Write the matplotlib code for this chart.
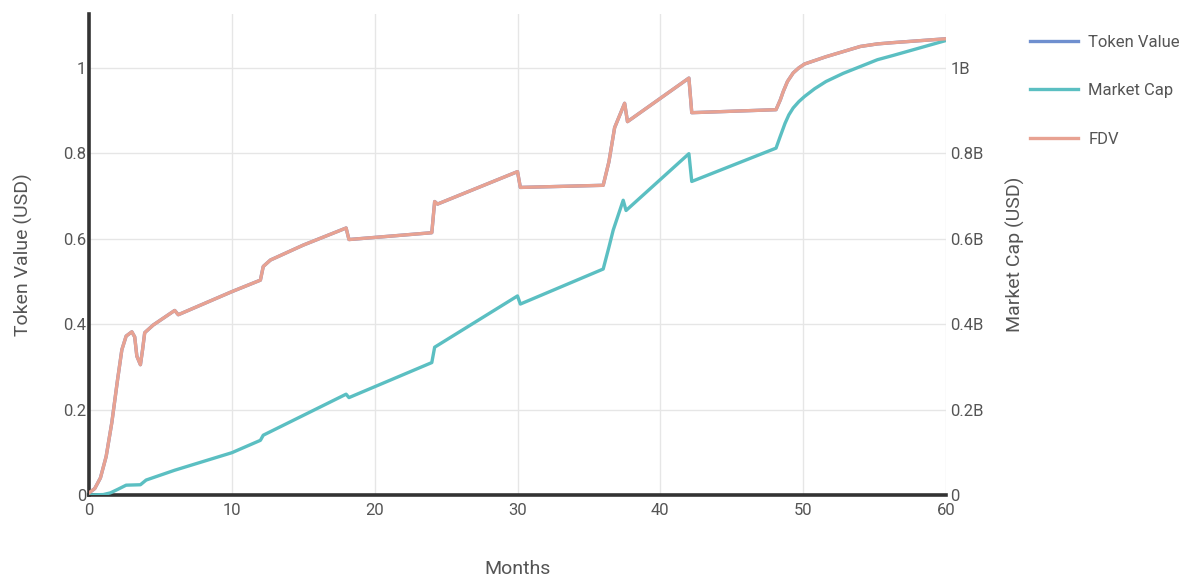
import matplotlib
matplotlib.use("Agg")
import matplotlib.pyplot as plt

plt.rcParams['font.family'] = ['Roboto', 'DejaVu Sans']

# ---- data ----
months_fdv = [0, 0.4, 0.8, 1.2, 1.6, 2.0, 2.3, 2.6, 3.0, 3.2, 3.35, 3.6, 3.75, 3.9,
              4.5, 6.0, 6.25, 10.0, 12.0, 12.2, 12.7, 15.0, 18.0, 18.2, 24.0, 24.2,
              24.4, 30.0, 30.2, 36.0, 36.4, 36.8, 37.5, 37.7, 42.0, 42.2, 48.1, 48.4,
              48.6, 48.9, 49.3, 49.7, 50.1, 51.6, 54.0, 55.2, 56.3, 60.0]
token_value = [0.005, 0.015, 0.04, 0.09, 0.17, 0.27, 0.34, 0.372, 0.382, 0.37, 0.325,
               0.305, 0.34, 0.38, 0.398, 0.432, 0.422, 0.476, 0.503, 0.535, 0.55, 0.585,
               0.625, 0.598, 0.614, 0.687, 0.681, 0.757, 0.72, 0.725, 0.78, 0.86, 0.917,
               0.874, 0.976, 0.895, 0.902, 0.925, 0.944, 0.968, 0.988, 1.0, 1.009, 1.026,
               1.05, 1.056, 1.059, 1.068]
fdv_billion = [0.005, 0.015, 0.04, 0.09, 0.17, 0.27, 0.34, 0.372, 0.382, 0.37, 0.325,
               0.305, 0.34, 0.38, 0.398, 0.432, 0.422, 0.476, 0.503, 0.535, 0.55, 0.585,
               0.625, 0.598, 0.614, 0.687, 0.681, 0.757, 0.72, 0.725, 0.78, 0.86, 0.917,
               0.874, 0.976, 0.895, 0.902, 0.925, 0.944, 0.968, 0.988, 1.0, 1.009, 1.026,
               1.05, 1.056, 1.059, 1.068]

months_mc = [0, 1.0, 1.5, 2.0, 2.6, 3.6, 4.0, 6.0, 10.0, 12.0, 12.2, 18.0, 18.2, 24.0,
             24.2, 30.0, 30.2, 36.0, 36.4, 36.7, 37.4, 37.6, 42.0, 42.2, 48.1, 48.4,
             48.73, 49.0, 49.3, 49.7, 50.1, 50.8, 51.6, 52.8, 54.0, 55.2, 56.3, 60.0]
market_cap_billion = [0, 0.001, 0.005, 0.013, 0.023, 0.024, 0.035, 0.058, 0.099, 0.128,
                      0.14, 0.236, 0.228, 0.31, 0.346, 0.466, 0.447, 0.529, 0.58, 0.62,
                      0.69, 0.666, 0.799, 0.734, 0.812, 0.84, 0.87, 0.89, 0.906, 0.921,
                      0.933, 0.951, 0.968, 0.987, 1.003, 1.019, 1.029, 1.064]

x_ticks = [0, 10, 20, 30, 40, 50, 60]
left_ticks = [0, 0.2, 0.4, 0.6, 0.8, 1.0]
left_tick_labels = ['0', '0.2', '0.4', '0.6', '0.8', '1']
right_ticks_billion = [0, 0.2, 0.4, 0.6, 0.8, 1.0]
right_tick_labels = ['0', '0.2B', '0.4B', '0.6B', '0.8B', '1B']

c_token = '#6f8fcf'
c_mc = '#5bbfc2'
c_fdv = '#e8a292'
txt = '#555555'
spine_c = '#333333'

fig = plt.figure(figsize=(11.99, 5.80), dpi=100)
ax = fig.add_axes([89/1199, 1-495/580, (946-89)/1199, (495-14)/580])
ax2 = ax.twinx()

ymax = 1.126
l_tv, = ax.plot(months_fdv, token_value, color=c_token, lw=2.4, solid_joinstyle='round')
l_mc, = ax2.plot(months_mc, [v*1e9 for v in market_cap_billion], color=c_mc, lw=2.4,
                 solid_joinstyle='round')
l_fdv, = ax2.plot(months_fdv, [v*1e9 for v in fdv_billion], color=c_fdv, lw=2.4,
                  solid_joinstyle='round')

ax.set_xlim(0, 60)
ax.set_ylim(0, ymax)
ax2.set_ylim(0, ymax*1e9)

ax.set_xticks(x_ticks)
ax.set_yticks(left_ticks)
ax.set_yticklabels(left_tick_labels)
ax2.set_yticks([v*1e9 for v in right_ticks_billion])
ax2.set_yticklabels(right_tick_labels)

ax.grid(True, color='#e6e6e6', lw=1)
ax.set_axisbelow(True)

for a in (ax, ax2):
    a.spines['top'].set_visible(False)
    a.spines['right'].set_visible(False)
ax2.spines['left'].set_visible(False)
ax2.spines['bottom'].set_visible(False)
ax.spines['left'].set_color(spine_c)
ax.spines['left'].set_linewidth(2.6)
ax.spines['bottom'].set_color(spine_c)
ax.spines['bottom'].set_linewidth(2.6)

ax.tick_params(axis='both', length=0, labelsize=12, colors=txt, pad=2)
ax.tick_params(axis='x', pad=6)
ax2.tick_params(axis='y', length=0, labelsize=12, colors=txt, pad=3)

ax.set_xlabel('Months', fontsize=14, color=txt, labelpad=30)
ax.set_ylabel('Token Value (USD)', fontsize=14, color=txt, labelpad=22)
ax2.set_ylabel('Market Cap (USD)', fontsize=14, color=txt, labelpad=16)

fig.legend([l_tv, l_mc, l_fdv], ['Token Value', 'Market Cap', 'FDV'],
           loc='upper left', bbox_to_anchor=(1015/1199, 1-20/580), frameon=False,
           fontsize=12, handlelength=2.9, handletextpad=0.6, labelspacing=2.0,
           labelcolor=txt)

fig.savefig('out.png', dpi=100)
